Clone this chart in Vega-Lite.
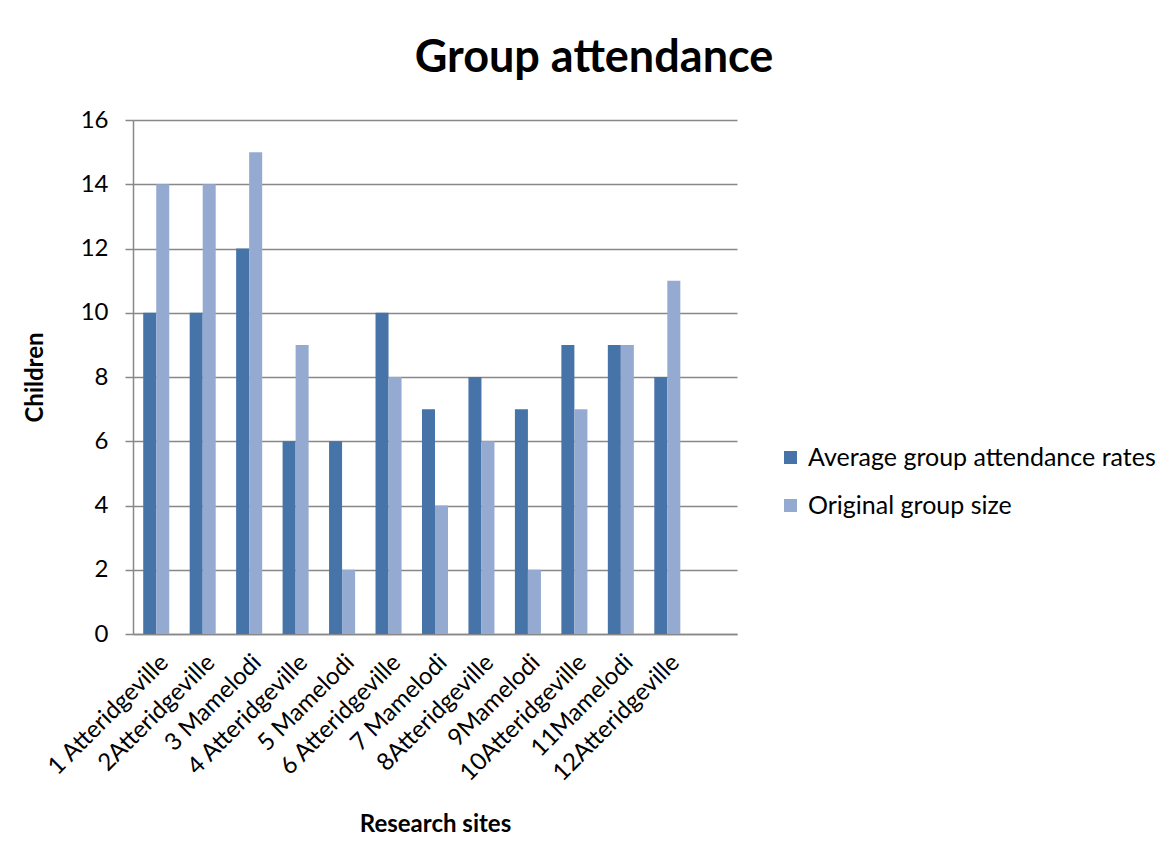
{
  "$schema": "https://vega.github.io/schema/vega-lite/v6.json",
  "autosize": {"type": "none"},
  "padding": {"left": 133, "top": 120, "right": 433, "bottom": 232},
  "width": 604,
  "height": 514,
  "background": "white",
  "title": {
    "text": "Group attendance",
    "font": "Lato",
    "fontSize": 45,
    "fontWeight": "bold",
    "color": "black",
    "anchor": "middle",
    "dx": 159,
    "offset": 27
  },
  "data": {
    "values": [
      {"site": "1 Atteridgeville", "series": "Average  group attendance rates", "value": 10},
      {"site": "1 Atteridgeville", "series": "Original group size", "value": 14},
      {"site": "2Atteridgeville", "series": "Average  group attendance rates", "value": 10},
      {"site": "2Atteridgeville", "series": "Original group size", "value": 14},
      {"site": "3 Mamelodi", "series": "Average  group attendance rates", "value": 12},
      {"site": "3 Mamelodi", "series": "Original group size", "value": 15},
      {"site": "4 Atteridgeville", "series": "Average  group attendance rates", "value": 6},
      {"site": "4 Atteridgeville", "series": "Original group size", "value": 9},
      {"site": "5 Mamelodi", "series": "Average  group attendance rates", "value": 6},
      {"site": "5 Mamelodi", "series": "Original group size", "value": 2},
      {"site": "6 Atteridgeville", "series": "Average  group attendance rates", "value": 10},
      {"site": "6 Atteridgeville", "series": "Original group size", "value": 8},
      {"site": "7 Mamelodi", "series": "Average  group attendance rates", "value": 7},
      {"site": "7 Mamelodi", "series": "Original group size", "value": 4},
      {"site": "8Atteridgeville", "series": "Average  group attendance rates", "value": 8},
      {"site": "8Atteridgeville", "series": "Original group size", "value": 6},
      {"site": "9Mamelodi", "series": "Average  group attendance rates", "value": 7},
      {"site": "9Mamelodi", "series": "Original group size", "value": 2},
      {"site": "10Atteridgeville", "series": "Average  group attendance rates", "value": 9},
      {"site": "10Atteridgeville", "series": "Original group size", "value": 7},
      {"site": "11Mamelodi", "series": "Average  group attendance rates", "value": 9},
      {"site": "11Mamelodi", "series": "Original group size", "value": 9},
      {"site": "12Atteridgeville", "series": "Average  group attendance rates", "value": 8},
      {"site": "12Atteridgeville", "series": "Original group size", "value": 11}
    ]
  },
  "mark": {"type": "bar"},
  "encoding": {
    "x": {
      "field": "site",
      "type": "nominal",
      "scale": {
        "domain": ["1 Atteridgeville", "2Atteridgeville", "3 Mamelodi", "4 Atteridgeville", "5 Mamelodi", "6 Atteridgeville", "7 Mamelodi", "8Atteridgeville", "9Mamelodi", "10Atteridgeville", "11Mamelodi", "12Atteridgeville", ""],
        "paddingInner": 0,
        "paddingOuter": 0
      },
      "axis": {
        "title": "Research sites",
        "titleFont": "Lato",
        "titleFontSize": 24,
        "titleFontWeight": "bold",
        "titleColor": "black",
        "titlePadding": 27,
        "labelAngle": -45,
        "labelFont": "Lato",
        "labelFontSize": 24,
        "labelColor": "black",
        "labelPadding": 16,
        "ticks": false,
        "domainColor": "#888888",
        "domainWidth": 1.5,
        "grid": false
      }
    },
    "xOffset": {
      "field": "series",
      "type": "nominal",
      "scale": {
        "domain": ["Average  group attendance rates", "Original group size"],
        "paddingInner": 0,
        "paddingOuter": 0.785
      }
    },
    "y": {
      "field": "value",
      "type": "quantitative",
      "scale": {"domain": [0, 16], "nice": false},
      "axis": {
        "title": "Children",
        "titleFont": "Lato",
        "titleFontSize": 24,
        "titleFontWeight": "bold",
        "titleColor": "black",
        "titlePadding": 33,
        "values": [0, 2, 4, 6, 8, 10, 12, 14, 16],
        "labelFont": "Lato",
        "labelFontSize": 24,
        "labelColor": "black",
        "labelPadding": 17,
        "tickSize": 8,
        "tickColor": "#888888",
        "tickWidth": 1.5,
        "domainColor": "#888888",
        "domainWidth": 1.5,
        "grid": true,
        "gridColor": "#888888",
        "gridWidth": 1.5
      }
    },
    "color": {
      "field": "series",
      "type": "nominal",
      "scale": {
        "domain": ["Average  group attendance rates", "Original group size"],
        "range": ["#4673A8", "#95AAD1"]
      },
      "legend": {
        "title": null,
        "orient": "none",
        "legendX": 645,
        "legendY": 325,
        "symbolType": "square",
        "symbolSize": 169,
        "symbolStrokeWidth": 0,
        "labelFont": "Lato",
        "labelFontSize": 25,
        "labelColor": "black",
        "labelOffset": 5,
        "rowPadding": 22,
        "labelLimit": 500
      }
    }
  },
  "config": {
    "view": {"stroke": null},
    "bar": {"stroke": null}
  }
}
